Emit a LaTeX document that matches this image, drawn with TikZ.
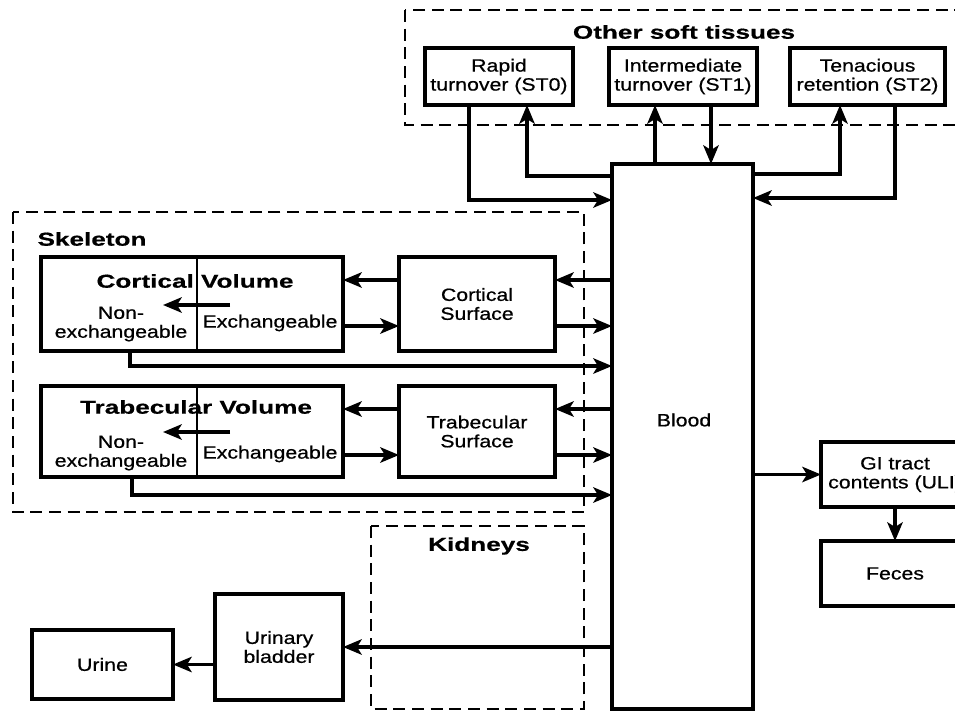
\documentclass[tikz,border=0pt]{standalone}
\usepackage{fontspec}
\usetikzlibrary{arrows.meta,calc}
\newfontfamily\labfont{Liberation Sans}[FakeStretch=1.2,FakeBold=0.7]
\newfontfamily\ttlfont{Liberation Sans Bold}[FakeStretch=1.4,FakeBold=0.6]
\begin{document}
\begin{tikzpicture}[x=0.75pt,y=-0.75pt,
  box/.style={draw=black,line width=2.3pt,fill=white,inner sep=0pt,outer sep=0pt,
    align=center,font=\labfont\fontsize{13.3}{14.2}\selectfont},
  lab/.style={inner sep=0pt,align=center,font=\labfont\fontsize{13.3}{14.2}\selectfont},
  ttl/.style={inner sep=0pt,align=center,font=\ttlfont\fontsize{14}{16}\selectfont},
  region/.style={draw=black,line width=2.2pt,dash pattern=on 9pt off 5pt},
  flow/.style={draw=black,line width=2.6pt,-{Stealth[length=14pt,width=11.5pt,inset=3.5pt]}}]
\useasboundingbox (0,0) rectangle (955,711);
\clip (0,0) rectangle (955,711);
\fill[white] (0,0) rectangle (955,711);

% compartment groups
\draw[region] (405,10) rectangle (1000,125);
\draw[region] (13,212) rectangle (584,512);
\draw[region] (371,526) rectangle (584,709);
\node[ttl] (softttl) at (684,32) {Other soft tissues};
\node[ttl] (skelttl) at (92,239) {Skeleton};
\node[ttl] (kidttl) at (479,546) {Kidneys};

% soft tissue compartments
\node[box,minimum width=111pt,minimum height=42.75pt] (st0) at (499,76.5) {Rapid\\turnover (ST0)};
\node[box,minimum width=111pt,minimum height=42.75pt] (st1) at (683,76.5) {Intermediate\\turnover (ST1)};
\node[box,minimum width=116.25pt,minimum height=42.75pt] (st2) at (867.5,76.5) {Tenacious\\retention (ST2)};

% blood
\node[box,minimum width=105.75pt,minimum height=408.75pt] (blood) at (682.5,436.5) {};
\node[lab] (bloodtxt) at (684,420) {Blood};

% skeleton
\node[box,minimum width=226.5pt,minimum height=70.5pt] (cv) at (192,304) {};
\node[box,minimum width=117pt,minimum height=70.5pt] (cs) at (477,304) {Cortical\\Surface};
\node[box,minimum width=226.5pt,minimum height=68.25pt] (tv) at (192,431.5) {};
\node[box,minimum width=117pt,minimum height=68.25pt] (ts) at (477,431.5) {Trabecular\\Surface};

\draw[line width=1.4pt] ($(cv.north)+(5,0)$) -- ($(cv.south)+(5,0)$);
\draw[line width=1.4pt] ($(tv.north)+(5,0)$) -- ($(tv.south)+(5,0)$);

\node[ttl] (cvttl) at ($(cv.center)+(3,-23)$) {Cortical Volume};
\node[lab] (cvnon) at ($(cv.center)+(-71,20)$) {Non-\\exchangeable};
\node[lab] (cvex) at ($(cv.center)+(78,19)$) {Exchangeable};
\node[ttl] (tvttl) at ($(tv.center)+(4,-24.5)$) {Trabecular Volume};
\node[lab] (tvnon) at ($(tv.center)+(-71,21.5)$) {Non-\\exchangeable};
\node[lab] (tvex) at ($(tv.center)+(78,22.5)$) {Exchangeable};

\draw[flow] ($(cv.center)+(38,1)$) -- ($(cv.center)+(-29,1)$);
\draw[flow] ($(tv.center)+(38,0.5)$) -- ($(tv.center)+(-29,0.5)$);

% excretion
\node[box,minimum width=96pt,minimum height=79.5pt] (bladder) at (279,647) {Urinary\\bladder};
\node[box,minimum width=105.75pt,minimum height=51.75pt] (urine) at (102.5,664.5) {Urine};
\node[box,minimum width=111pt,minimum height=48.75pt] (gi) at (895,474.5) {GI tract\\contents (ULI)};
\node[box,minimum width=111pt,minimum height=48.75pt] (feces) at (895,573.5) {Feces};

% soft tissue exchange
\draw[flow] ($(st0.south west)+(44,0)$) |- ($(blood.north west)+(0,36)$);
\draw[flow] ($(blood.north west)+(0,12)$) -| ($(st0.south west)+(102,0)$);
\draw[flow] ($(blood.north west)+(43,0)$) -- ($(st1.south west)+(46,0)$);
\draw[flow] ($(st1.south west)+(102,0)$) -- ($(blood.north west)+(99,0)$);
\draw[flow] ($(blood.north east)+(0,10)$) -| ($(st2.south west)+(50,0)$);
\draw[flow] ($(st2.south west)+(105,0)$) |- ($(blood.north east)+(0,34)$);

% skeleton exchange
\draw[flow] ($(blood.north west)+(0,116)$) -- ($(cs.east)+(0,-24)$);
\draw[flow] ($(cs.west)+(0,-24)$) -- ($(cv.east)+(0,-24)$);
\draw[flow] ($(cv.east)+(0,22)$) -- ($(cs.west)+(0,22)$);
\draw[flow] ($(cs.east)+(0,22)$) -- ($(blood.north west)+(0,162)$);
\draw[flow] ($(cv.south west)+(89,0)$) |- ($(blood.north west)+(0,202)$);

\draw[flow] ($(blood.north west)+(0,245)$) -- ($(ts.east)+(0,-22.5)$);
\draw[flow] ($(ts.west)+(0,-22.5)$) -- ($(tv.east)+(0,-22.5)$);
\draw[flow] ($(tv.east)+(0,23.5)$) -- ($(ts.west)+(0,23.5)$);
\draw[flow] ($(ts.east)+(0,23.5)$) -- ($(blood.north west)+(0,291)$);
\draw[flow] ($(tv.south west)+(91,0)$) |- ($(blood.north west)+(0,331)$);

% urinary and faecal pathways
\draw[flow] (blood.west |- bladder.east) -- (bladder.east);
\draw[flow] (bladder.west |- urine.east) -- (urine.east);
\draw[flow] (blood.east |- gi.west) -- (gi.west);
\draw[flow] (gi.south) -- (feces.north);
\end{tikzpicture}
\end{document}
